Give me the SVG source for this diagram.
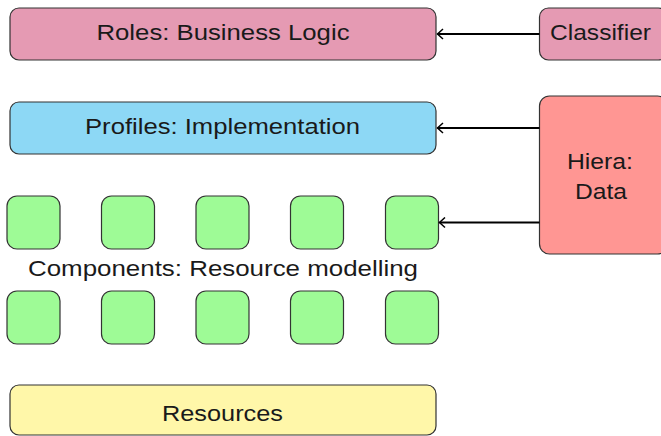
<svg xmlns="http://www.w3.org/2000/svg" width="661" height="436" viewBox="0 0 661 436">
<style>
.box{stroke:#333;stroke-width:1.2}
.t{font-family:"Liberation Sans",Arial,sans-serif;font-size:22px;fill:#1a1a1a;text-anchor:middle}
.c{stroke:#000;stroke-width:2;fill:none}
.pink{fill:#E59AB3}.blue{fill:#8DD8F5}.green{fill:#9EFB96}.red{fill:#FF9693}.yellow{fill:#FFF7A9}
</style>
<defs>
<marker id="arr" markerWidth="10" markerHeight="12" refX="7" refY="6" orient="auto" markerUnits="userSpaceOnUse">
<path d="M1.5,1 L7,6 L1.5,11" fill="none" stroke="#000" stroke-width="1.5"/>
</marker>
</defs>
<g id="roles"><rect class="box pink" x="10" y="8" width="426" height="52" rx="9"/><text class="t" x="223" y="40" textLength="253" lengthAdjust="spacingAndGlyphs">Roles: Business Logic</text></g>
<g id="classifier"><rect class="box pink" x="539.5" y="8" width="128" height="52" rx="9"/><text class="t" x="600.5" y="40" textLength="101" lengthAdjust="spacingAndGlyphs">Classifier</text></g>
<g id="profiles"><rect class="box blue" x="10" y="102" width="426" height="52" rx="9"/><text class="t" x="222.5" y="134" textLength="275" lengthAdjust="spacingAndGlyphs">Profiles: Implementation</text></g>
<g id="hiera"><rect class="box red" x="539.5" y="96" width="128" height="158" rx="10"/><text class="t" x="600" y="169" textLength="66" lengthAdjust="spacingAndGlyphs">Hiera:</text><text class="t" x="601" y="199" textLength="52" lengthAdjust="spacingAndGlyphs">Data</text></g>
<g id="components-row1">
<rect class="box green" x="7" y="196" width="53" height="53" rx="10"/>
<rect class="box green" x="101.5" y="196" width="53" height="53" rx="10"/>
<rect class="box green" x="196" y="196" width="53" height="53" rx="10"/>
<rect class="box green" x="290.5" y="196" width="53" height="53" rx="10"/>
<rect class="box green" x="385.5" y="196" width="53" height="53" rx="10"/>
</g>
<g id="components-label"><text class="t" x="223" y="276" textLength="390" lengthAdjust="spacingAndGlyphs">Components: Resource modelling</text></g>
<g id="components-row2">
<rect class="box green" x="7" y="291" width="53" height="53" rx="10"/>
<rect class="box green" x="101.5" y="291" width="53" height="53" rx="10"/>
<rect class="box green" x="196" y="291" width="53" height="53" rx="10"/>
<rect class="box green" x="290.5" y="291" width="53" height="53" rx="10"/>
<rect class="box green" x="385.5" y="291" width="53" height="53" rx="10"/>
</g>
<g id="resources"><rect class="box yellow" x="10" y="385" width="426" height="50" rx="9"/><text class="t" x="222.5" y="421" textLength="121" lengthAdjust="spacingAndGlyphs">Resources</text></g>
<g id="connectors">
<line class="c" x1="539.5" y1="34" x2="437.5" y2="34" marker-end="url(#arr)"/>
<line class="c" x1="539.5" y1="128" x2="437.5" y2="128" marker-end="url(#arr)"/>
<line class="c" x1="539.5" y1="222.5" x2="439.5" y2="222.5" marker-end="url(#arr)"/>
</g>
</svg>
